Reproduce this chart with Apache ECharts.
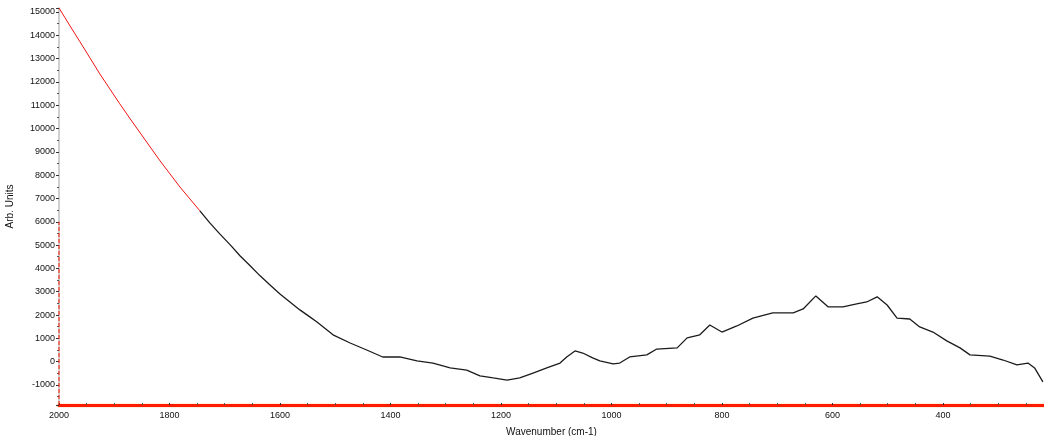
<!DOCTYPE html>
<html>
<head>
<meta charset="utf-8">
<script src="https://cdn.jsdelivr.net/npm/echarts@6/dist/echarts.min.js"></script>
<style>
  html, body { margin: 0; padding: 0; background: #fff; }
  #chart { width: 1044px; height: 436px; }
</style>
</head>
<body>
<div id="chart"></div>
<script>
// Spectrum samples: wavenumber (cm-1) and intensity (arb. units)
const wavenumber = [
  2000, 1980, 1962, 1944, 1926, 1908, 1890, 1871, 1853, 1835,
  1817, 1799, 1781, 1763, 1745, 1727, 1709, 1690, 1672, 1654,
  1636, 1618, 1600, 1582, 1564, 1546, 1533, 1504, 1473, 1443,
  1414, 1383, 1352, 1323, 1292, 1262, 1238, 1214, 1189, 1166,
  1142, 1117, 1093, 1081, 1066, 1052, 1034, 1021, 997, 985,
  967, 936, 918, 881, 863, 840, 822, 800, 773, 744,
  708, 671, 653, 630, 608, 581, 556, 538, 519, 501,
  483, 460, 442, 418, 393, 369, 351, 315, 291, 266,
  246, 234, 219
];
const intensity = [
  15170, 14400, 13720, 13030, 12340, 11700, 11060, 10410, 9810, 9210,
  8610, 8050, 7490, 6980, 6470, 5950, 5480, 5010, 4530, 4110,
  3680, 3290, 2900, 2560, 2220, 1920, 1700, 1150, 800, 500,
  200, 200, 30, -60, -270, -360, -610, -700, -790, -700,
  -490, -270, -60, 200, 460, 370, 160, 30, -100, -60,
  200, 290, 540, 590, 1020, 1150, 1570, 1270, 1530, 1870,
  2090, 2090, 2260, 2820, 2350, 2350, 2480, 2560, 2780, 2430,
  1870, 1830, 1490, 1270, 890, 590, 290, 240, 70, -140,
  -60, -270, -870
];

// Axis settings
const X_MAX = 2000, X_MIN = 217, X_STEP = 200;
const Y_MIN = -1860, Y_MAX = 15170, Y_STEP = 1000;
// Wavenumber where the trace switches from red to dark
const COLOR_SPLIT = 1745;
// Dashed marker along the left edge: intensity range it spans
const edgeMarkerRange = [Y_MIN, 6000];

const points = wavenumber.map((w, i) => [w, intensity[i]]);
// High-wavenumber part (red) and the rest (dark); they share the split sample
const redPart = points.filter(p => p[0] >= COLOR_SPLIT);
const darkPart = points.filter(p => p[0] <= COLOR_SPLIT);
const edgeMarker = edgeMarkerRange.map(v => [X_MAX, v]);

const chart = echarts.init(document.getElementById('chart'), null, { renderer: 'canvas' });
const font = 'Liberation Sans, Arial, sans-serif';
const plain = v => String(v);

const trace = (data, color, width) => ({
  type: 'line',
  data: data,
  showSymbol: false,
  symbol: 'none',
  smooth: false,
  silent: true,
  lineStyle: { color: color, width: width },
  z: 3
});

chart.setOption({
  animation: false,
  backgroundColor: '#ffffff',
  grid: { left: 59, right: 0, top: 8, bottom: 31, containLabel: false, outerBoundsMode: 'none' },
  xAxis: {
    type: 'value',
    inverse: true,
    min: X_MIN,
    max: X_MAX,
    minInterval: X_STEP,
    maxInterval: X_STEP,
    splitNumber: 9,
    name: 'Wavenumber (cm-1)',
    nameLocation: 'middle',
    nameGap: 22,
    nameTextStyle: { color: '#111', fontFamily: font, fontSize: 10 },
    axisLine: { show: true, onZero: false, lineStyle: { color: '#ff1a00', width: 3, shadowColor: '#ffc080', shadowBlur: 2 } },
    axisTick: { show: true, inside: true, length: 2, lineStyle: { color: '#333', width: 1 } },
    minorTick: { show: true, splitNumber: 4, length: 2, lineStyle: { color: '#555', width: 1 } },
    axisLabel: { color: '#111', fontFamily: font, fontSize: 9, margin: 6, showMinLabel: false, showMaxLabel: true, formatter: plain },
    splitLine: { show: false }
  },
  yAxis: {
    type: 'value',
    min: Y_MIN,
    max: Y_MAX,
    minInterval: Y_STEP,
    maxInterval: Y_STEP,
    splitNumber: 17,
    name: 'Arb. Units',
    nameLocation: 'middle',
    nameGap: 44,
    nameTextStyle: { color: '#111', fontFamily: font, fontSize: 10 },
    axisLine: { show: true, onZero: false, lineStyle: { color: '#cfcfcf', width: 2 } },
    axisTick: { show: true, length: 3, lineStyle: { color: '#333', width: 1 } },
    minorTick: { show: true, splitNumber: 2, length: 2, lineStyle: { color: '#555', width: 1 } },
    axisLabel: { color: '#111', fontFamily: font, fontSize: 9, margin: 4, showMinLabel: false, showMaxLabel: false, formatter: plain },
    splitLine: { show: false }
  },
  series: [
    trace(redPart, '#f01414', 1),
    trace(darkPart, '#1c1c1c', 1.3),
    {
      type: 'line',
      data: edgeMarker,
      showSymbol: false,
      symbol: 'none',
      silent: true,
      lineStyle: { color: '#ff1a00', type: [4, 2], width: 1 },
      z: 2
    }
  ]
});
</script>
</body>
</html>
